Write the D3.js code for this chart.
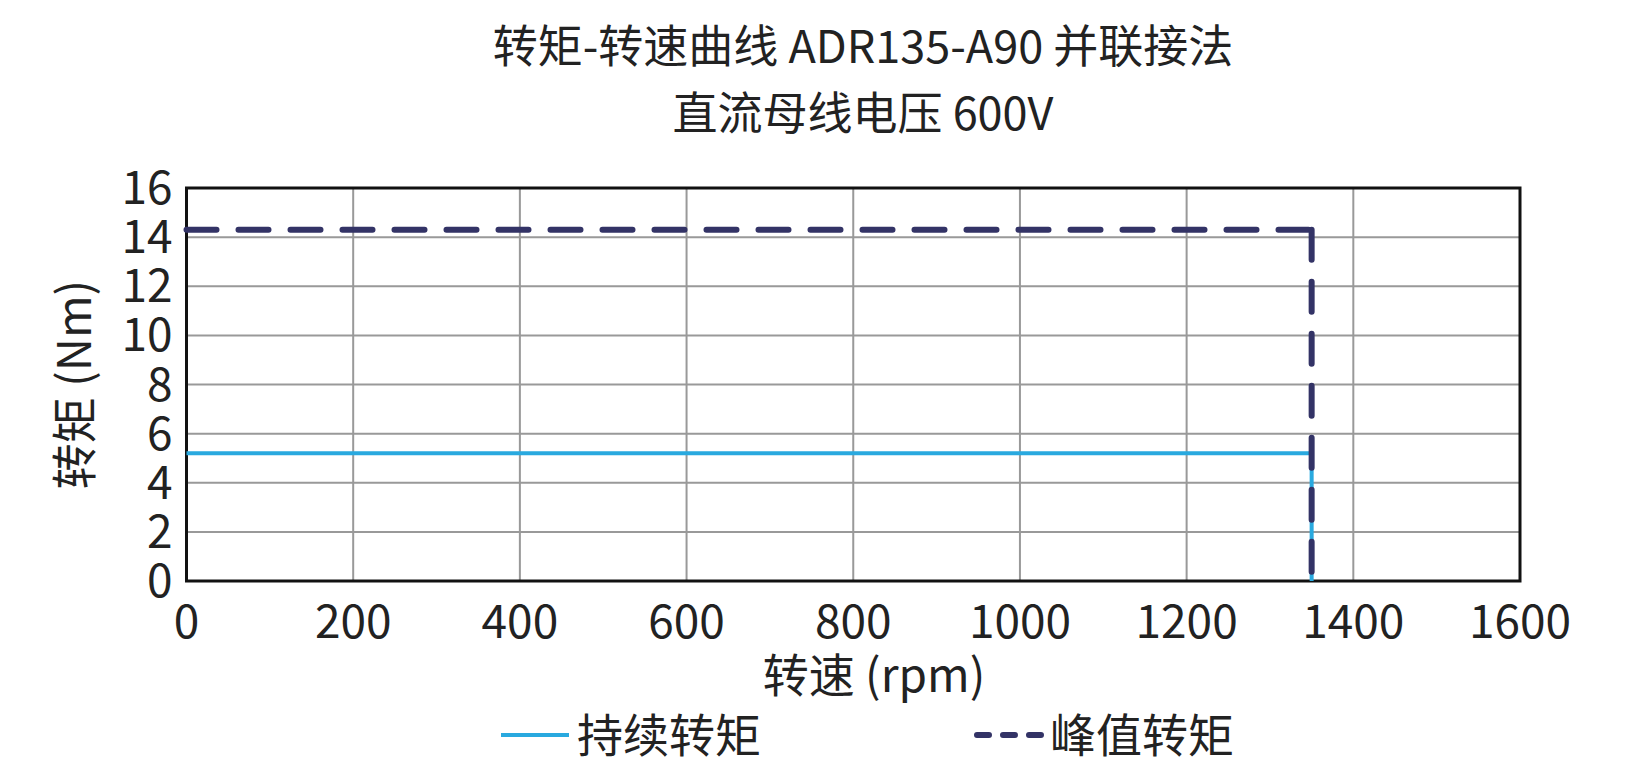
<!DOCTYPE html><html><head><meta charset="utf-8"><script src="https://cdn.jsdelivr.net/npm/d3@7"></script>
<style>body{margin:0;background:#fff}text{font-family:"Noto Sans CJK SC","Noto Sans",sans-serif;fill:#222}</style></head><body>
<svg id="c" width="1629" height="771"></svg>
<script>
const titleLines=["转矩-转速曲线 ADR135-A90 并联接法","直流母线电压 600V"];
const xTicks=[0,200,400,600,800,1000,1200,1400,1600];
const yTicks=[0,2,4,6,8,10,12,14,16];
const contSpeed=[0,1350,1350];
const contTorque=[5.2,5.2,0];
const peakSpeed=[0,1350,1350];
const peakTorque=[14.3,14.3,0];
const seriesNames=["持续转矩","峰值转矩"];
const svg=d3.select("#c");
const L=186.5,R=1520,T=188,B=581;
const x=d3.scaleLinear().domain([0,1600]).range([L,R]);
const y=d3.scaleLinear().domain([0,16]).range([B,T]);
const g=svg.append("g");
g.selectAll(".vx").data(xTicks).join("line").attr("x1",d=>x(d)).attr("x2",d=>x(d)).attr("y1",T).attr("y2",B).attr("stroke","#999").attr("stroke-width",2);
g.selectAll(".hy").data(yTicks).join("line").attr("y1",d=>y(d)).attr("y2",d=>y(d)).attr("x1",L).attr("x2",R).attr("stroke","#999").attr("stroke-width",2);
g.append("rect").attr("x",L).attr("y",T).attr("width",R-L).attr("height",B-T).attr("fill","none").attr("stroke","#111").attr("stroke-width",3);
const line=d3.line().x(d=>x(d[0])).y(d=>y(d[1]));
g.append("path").attr("d",line(contSpeed.map((s,i)=>[s,contTorque[i]]))).attr("fill","none").attr("stroke","#29a9df").attr("stroke-width",4);
const peakPts=peakSpeed.map((s,i)=>[s,peakTorque[i]]);
[[peakPts[0],peakPts[1]],[peakPts[1],peakPts[2]]].forEach(seg=>{
g.append("path").attr("d",line(seg)).attr("fill","none").attr("stroke","#333366").attr("stroke-width",6).attr("stroke-dasharray","30,22").attr("stroke-linecap","round");});
g.selectAll(".xl").data(xTicks).join("text").attr("x",d=>x(d)).attr("y",638).attr("text-anchor","middle").attr("font-size",46).text(d=>d);
g.selectAll(".yl").data(yTicks).join("text").attr("x",L-14).attr("y",d=>y(d)+16).attr("text-anchor","end").attr("font-size",46).text(d=>d);
svg.selectAll(".t").data(titleLines).join("text").attr("x",863).attr("y",(d,i)=>63+i*67).attr("text-anchor","middle").attr("font-size",45).text(d=>d);
svg.append("text").attr("x",874).attr("y",692).attr("text-anchor","middle").attr("font-size",46).text("转速 (rpm)");
svg.append("text").attr("transform",`translate(91,${(T+B)/2}) rotate(-90)`).attr("text-anchor","middle").attr("font-size",46).text("转矩 (Nm)");
svg.append("line").attr("x1",501).attr("x2",569).attr("y1",735).attr("y2",735).attr("stroke","#29a9df").attr("stroke-width",4);
svg.append("text").attr("x",577).attr("y",752).attr("font-size",46).text(seriesNames[0]);
svg.append("line").attr("x1",977).attr("x2",1042).attr("y1",735).attr("y2",735).attr("stroke","#333366").attr("stroke-width",6).attr("stroke-dasharray","12,14").attr("stroke-linecap","round");
svg.append("text").attr("x",1050).attr("y",752).attr("font-size",46).text(seriesNames[1]);
</script></body></html>
